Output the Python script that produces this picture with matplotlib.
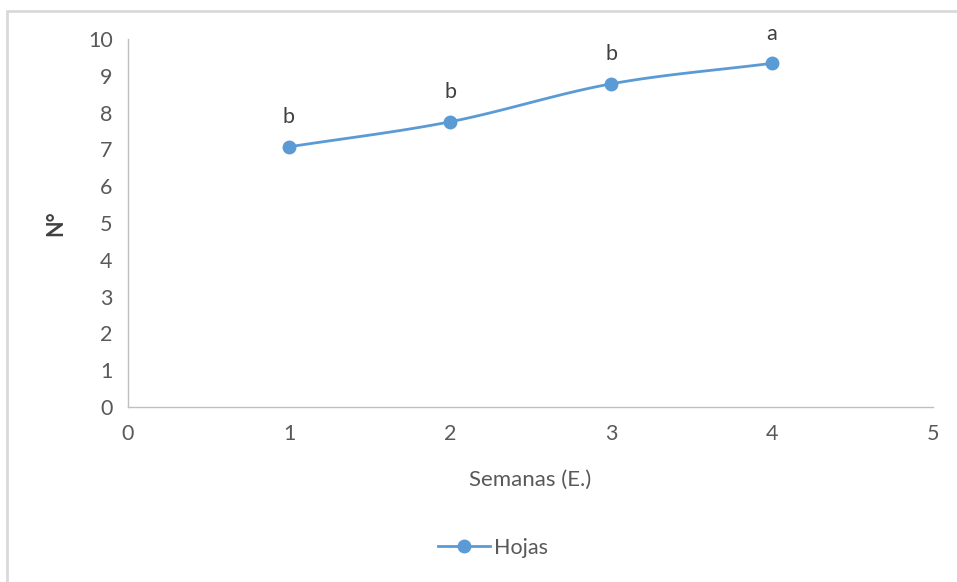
import numpy as np
import matplotlib.pyplot as plt
from matplotlib.patches import Rectangle

plt.rcParams["font.family"] = ["Lato", "DejaVu Sans"]

semanas = [1, 2, 3, 4]
hojas = [7.07, 7.75, 8.78, 9.34]
letras = ["b", "b", "b", "a"]

BLUE = "#5b9bd5"
GRAY_TEXT = "#595959"
AXIS_GRAY = "#bfbfbf"


def smooth_curve(x, y, steps=40):
    # Catmull-Rom spline through the points, like a smoothed Excel line
    x = np.asarray(x, float)
    y = np.asarray(y, float)
    px = np.concatenate([[2 * x[0] - x[1]], x, [2 * x[-1] - x[-2]]])
    py = np.concatenate([[2 * y[0] - y[1]], y, [2 * y[-1] - y[-2]]])
    xs, ys = [], []
    for i in range(1, len(px) - 2):
        t = np.linspace(0, 1, steps)
        for arr, p in ((xs, px), (ys, py)):
            p0, p1, p2, p3 = p[i - 1], p[i], p[i + 1], p[i + 2]
            arr.extend(0.5 * (2 * p1 + (-p0 + p2) * t
                              + (2 * p0 - 5 * p1 + 4 * p2 - p3) * t ** 2
                              + (-p0 + 3 * p1 - 3 * p2 + p3) * t ** 3))
    return np.array(xs), np.array(ys)


fig = plt.figure(figsize=(9.57, 5.82), dpi=100)
ax = fig.add_axes([128 / 957, 1 - 407 / 582, 805 / 957, 368 / 582])

# outer chart border
fig.patches.append(Rectangle((7 / 957, -0.1), 1.2, 1 - 11 / 582 + 0.1,
                             transform=fig.transFigure, fill=False,
                             edgecolor="#d9d9d9", linewidth=2))

cx, cy = smooth_curve(semanas, hojas)
ax.plot(cx, cy, color=BLUE, linewidth=2, solid_capstyle="round")
ax.plot(semanas, hojas, linestyle="none", marker="o", markersize=9,
        color=BLUE)
ax.plot([], [], color=BLUE, linewidth=2, marker="o", markersize=9,
        label="Hojas")

for x, y, s in zip(semanas, hojas, letras):
    ax.annotate(s, (x, y), xytext=(0, 14), textcoords="offset points",
                ha="center", va="bottom", fontsize=15.5, color="#404040")

ax.set_xlim(0, 5)
ax.set_ylim(0, 10)
ax.set_xticks(range(0, 6))
ax.set_yticks(range(0, 11))
ax.tick_params(length=0, labelsize=15.5, labelcolor=GRAY_TEXT)
ax.tick_params(axis="x", pad=12)
ax.tick_params(axis="y", pad=11)

for side in ("top", "right"):
    ax.spines[side].set_visible(False)
for side in ("left", "bottom"):
    ax.spines[side].set_color(AXIS_GRAY)
    ax.spines[side].set_linewidth(1)

ax.set_xlabel("Semanas (E.)", fontsize=16, color=GRAY_TEXT, labelpad=19)
ax.set_ylabel("N°", fontsize=15.5, color="#404040", fontweight="bold",
              labelpad=16)

fig.legend(loc="center", bbox_to_anchor=(0.515, 1 - 548 / 582), frameon=False,
           fontsize=15.5, labelcolor=GRAY_TEXT, handlelength=2.4,
           handletextpad=0.2)

fig.savefig("out.png", dpi=100)
